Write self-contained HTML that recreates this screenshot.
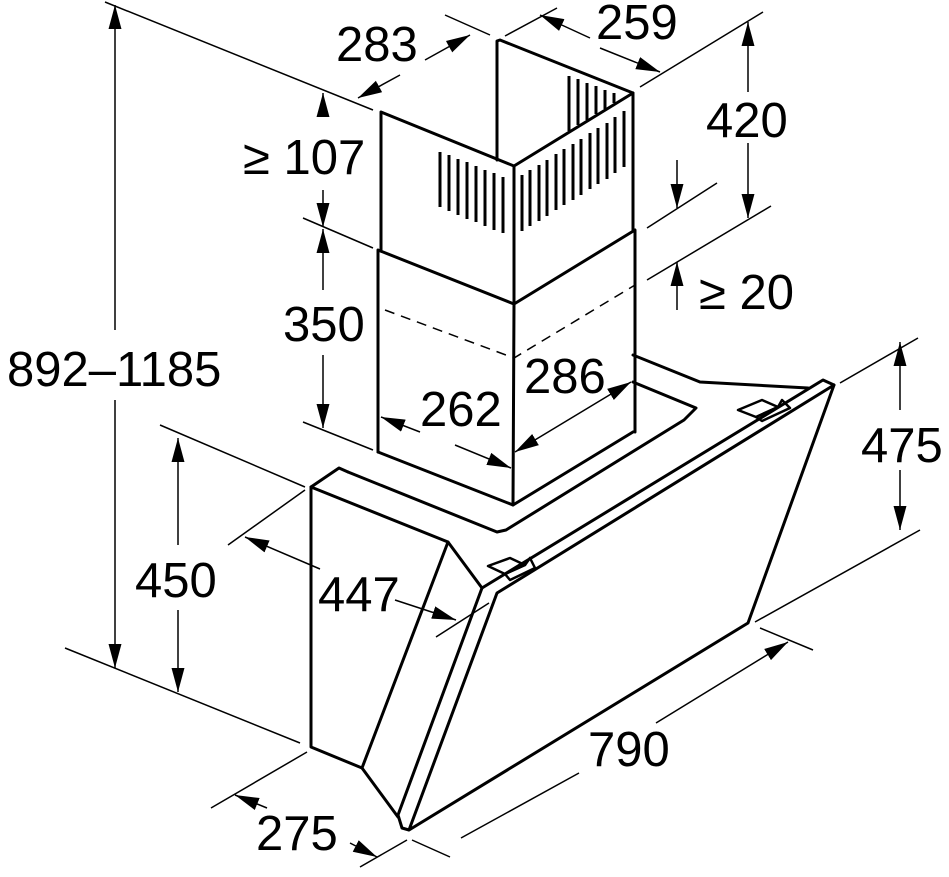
<!DOCTYPE html>
<html><head><meta charset="utf-8"><style>
html,body{margin:0;padding:0;background:#fff;}
svg{display:block;}
text{font-family:"Liberation Sans",Arial,sans-serif;font-size:49px;fill:#000;}
</style></head><body>
<svg width="949" height="877" viewBox="0 0 949 877" xmlns="http://www.w3.org/2000/svg">
<defs>
<marker id="a" viewBox="0 0 10 10" refX="10" refY="5" markerWidth="24" markerHeight="24" markerUnits="userSpaceOnUse" orient="auto-start-reverse">
<path d="M0,2.3 L10,5 L0,7.7 z" fill="#000"/></marker>
</defs>
<g fill="none" stroke="#000" stroke-width="3" stroke-linejoin="round" stroke-linecap="round">
<polyline points="497,160 497,41 500,40 633,93"/>
<polyline points="381,250 381,112 514,166 633,93 633,230"/>
<line x1="514" y1="166" x2="514" y2="304"/>
<polyline points="378,452 378,250 514,304 635,230 635,432"/>
<line x1="514" y1="304" x2="513" y2="505"/>
<polyline points="378,452 513,505 633,432"/>
<polyline points="633,355 700,382 808,388"/>
<polyline points="633,382 696,408 684,420 506,530 497,532 348,472"/>
<polyline points="348,472 339,468 311,487"/>
<polyline points="311,487 448,542 482,588"/>
<polyline points="311,487 311,747 362,768 398,817"/>
<line x1="448" y1="542" x2="362" y2="768"/>
<polyline points="482,588 398,815 402,828 409,830 497,593 834,385 748,623 409,830"/>
<polyline points="482,588 823,380 834,385"/>
<path d="M488,566 L510,558 L525,565 L505,574 z" stroke-width="2.5"/>
<path d="M505,574 L525,565 L530,558 L535,568 L510,580 z" stroke-width="2.5"/>
<path d="M738,410 L762,400 L778,407 L756,417 z" stroke-width="2.5"/>
<path d="M756,417 L778,407 L782,400 L790,408 L762,421 z" stroke-width="2.5"/>
</g>
<polyline points="385,310 514,358 635,285" fill="none" stroke="#000" stroke-width="1.5" stroke-dasharray="10,7"/>
<g stroke="#000" stroke-width="3">
<line x1="440" y1="152" x2="440" y2="207"/><line x1="449" y1="155" x2="449" y2="211"/>
<line x1="458" y1="159" x2="458" y2="215"/><line x1="467" y1="162" x2="467" y2="219"/>
<line x1="476" y1="166" x2="476" y2="222"/><line x1="485" y1="170" x2="485" y2="226"/>
<line x1="494" y1="173" x2="494" y2="230"/><line x1="503" y1="177" x2="503" y2="233"/>
<line x1="522" y1="175" x2="522" y2="231"/><line x1="530" y1="170" x2="530" y2="226"/>
<line x1="539" y1="165" x2="539" y2="221"/><line x1="547" y1="160" x2="547" y2="216"/>
<line x1="556" y1="154" x2="556" y2="210"/><line x1="564" y1="149" x2="564" y2="205"/>
<line x1="573" y1="144" x2="573" y2="200"/><line x1="581" y1="139" x2="581" y2="195"/>
<line x1="590" y1="133" x2="590" y2="189"/><line x1="598" y1="128" x2="598" y2="184"/>
<line x1="607" y1="123" x2="607" y2="179"/><line x1="615" y1="117" x2="615" y2="173"/>
<line x1="624" y1="111" x2="624" y2="167"/>
<line x1="569" y1="76" x2="569" y2="131"/><line x1="578" y1="79" x2="578" y2="125"/>
<line x1="587" y1="83" x2="587" y2="120"/><line x1="596" y1="86" x2="596" y2="114"/>
<line x1="605" y1="90" x2="605" y2="109"/><line x1="614" y1="93" x2="614" y2="103"/>
</g>
<g fill="none" stroke="#000" stroke-width="1.5">
<line x1="105" y1="2" x2="373" y2="110"/>
<line x1="115" y1="5" x2="115" y2="330" marker-start="url(#a)"/>
<line x1="115" y1="400" x2="115" y2="668" marker-end="url(#a)"/>
<line x1="65" y1="648" x2="300" y2="743"/>
<line x1="323" y1="93" x2="323" y2="117" marker-start="url(#a)"/>
<line x1="323" y1="190" x2="323" y2="227" marker-end="url(#a)"/>
<line x1="303" y1="218" x2="373" y2="248"/>
<line x1="323" y1="229" x2="323" y2="290" marker-start="url(#a)"/>
<line x1="323" y1="355" x2="323" y2="428" marker-end="url(#a)"/>
<line x1="303" y1="422" x2="373" y2="450"/>
<line x1="358" y1="98" x2="400" y2="75" marker-start="url(#a)"/>
<line x1="425" y1="60" x2="470" y2="35" marker-end="url(#a)"/>
<line x1="445" y1="15" x2="490" y2="35"/>
<line x1="505" y1="36" x2="557" y2="8"/>
<line x1="540" y1="15" x2="590" y2="38" marker-start="url(#a)"/>
<line x1="600" y1="48" x2="660" y2="72" marker-end="url(#a)"/>
<line x1="640" y1="87" x2="763" y2="12"/>
<line x1="748" y1="22" x2="748" y2="92" marker-start="url(#a)"/>
<line x1="748" y1="143" x2="748" y2="218" marker-end="url(#a)"/>
<line x1="647" y1="280" x2="771" y2="206"/>
<line x1="647" y1="228" x2="717" y2="183"/>
<line x1="677" y1="160" x2="677" y2="208" marker-end="url(#a)"/>
<line x1="677" y1="310" x2="677" y2="262" marker-end="url(#a)"/>
<line x1="381" y1="417" x2="420" y2="432" marker-start="url(#a)"/>
<line x1="455" y1="445" x2="511" y2="468" marker-end="url(#a)"/>
<line x1="515" y1="452" x2="631" y2="382" marker-start="url(#a)" marker-end="url(#a)"/>
<line x1="160" y1="425" x2="305" y2="487"/>
<line x1="178" y1="438" x2="178" y2="545" marker-start="url(#a)"/>
<line x1="178" y1="610" x2="178" y2="692" marker-end="url(#a)"/>
<line x1="228" y1="545" x2="305" y2="490"/>
<line x1="245" y1="537" x2="320" y2="569" marker-start="url(#a)"/>
<line x1="395" y1="600" x2="456" y2="620" marker-end="url(#a)"/>
<line x1="436" y1="637" x2="489" y2="603"/>
<line x1="211" y1="808" x2="307" y2="752"/>
<line x1="235" y1="795" x2="267" y2="808" marker-start="url(#a)"/>
<line x1="350" y1="843" x2="377" y2="857" marker-end="url(#a)"/>
<line x1="360" y1="867" x2="407" y2="840"/>
<line x1="412" y1="840" x2="450" y2="857"/>
<line x1="461" y1="838" x2="579" y2="773"/>
<line x1="656" y1="723" x2="788" y2="642" marker-end="url(#a)"/>
<line x1="760" y1="628" x2="813" y2="650"/>
<line x1="755" y1="622" x2="920" y2="530"/>
<line x1="840" y1="383" x2="918" y2="338"/>
<line x1="900" y1="342" x2="900" y2="410" marker-start="url(#a)"/>
<line x1="900" y1="470" x2="900" y2="530" marker-end="url(#a)"/>
</g>
<text x="7" y="386">892–1185</text>
<text x="243" y="174">≥ 107</text>
<text x="283" y="341">350</text>
<text x="336" y="61">283</text>
<text x="596" y="39">259</text>
<text x="706" y="137">420</text>
<text x="699" y="309">≥ 20</text>
<text x="420" y="426">262</text>
<text x="524" y="393">286</text>
<text x="135" y="597">450</text>
<text x="318" y="611">447</text>
<text x="861" y="462">475</text>
<text x="588" y="766">790</text>
<text x="256" y="850">275</text>
</svg>
</body></html>
